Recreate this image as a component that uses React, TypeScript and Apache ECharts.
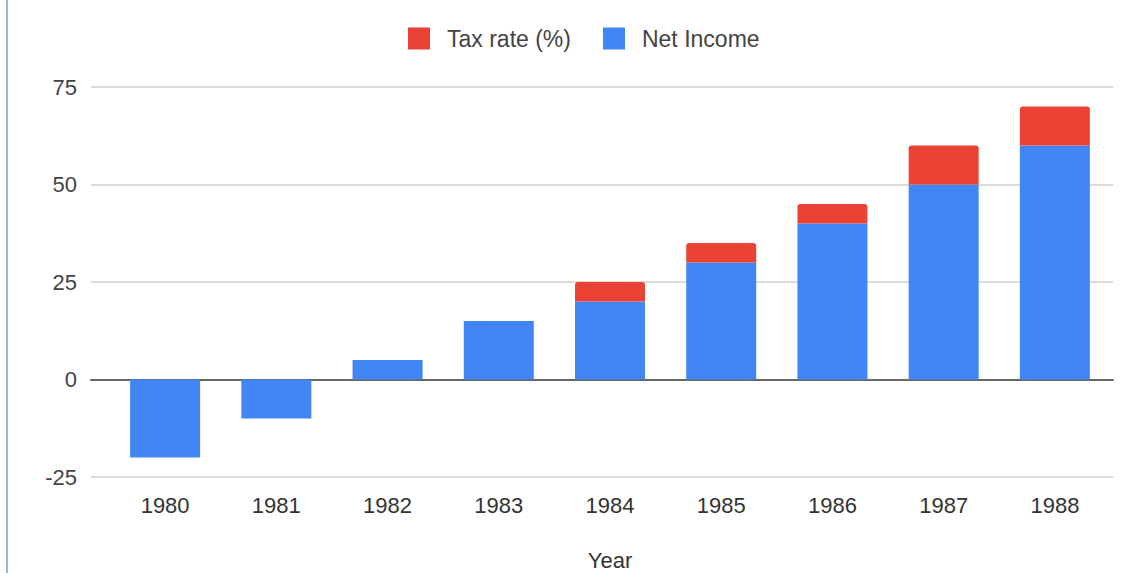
import React, { useEffect, useRef } from "react";
import * as echarts from "echarts";

const years = ["1980", "1981", "1982", "1983", "1984", "1985", "1986", "1987", "1988"];
const netIncome = [-20, -10, 5, 15, 20, 30, 40, 50, 60];
const taxRate = [null, null, null, null, 5, 5, 5, 10, 10];
const yMin = -25;
const yMax = 75;
const yStep = 25;

const FONT = "'Liberation Sans', Arial, sans-serif";

export default function App() {
  const ref = useRef<HTMLDivElement>(null);
  useEffect(() => {
    if (!ref.current) return;
    const chart = echarts.init(ref.current, undefined, { renderer: "svg" });
    chart.setOption({
      animation: false,
      backgroundColor: "#ffffff",
      textStyle: { fontFamily: FONT },
      legend: {
        left: 403,
        top: 22,
        itemWidth: 22,
        itemHeight: 22,
        itemGap: 32,
        icon: "rect",
        data: ["Tax rate (%)", "Net Income"],
        textStyle: { fontSize: 23, color: "#444", fontFamily: FONT, padding: [0, 0, 0, 12] },
      },
      graphic: [
        {
          type: "line",
          shape: { x1: 7, y1: 0, x2: 7, y2: 573 },
          style: { stroke: "#3b6fd6", lineWidth: 1 },
        },
      ],
      grid: [
        { left: 91, right: 8, top: 87, bottom: 96, outerBoundsMode: "none", containLabel: false },
        { left: 109.5, right: 10.5, top: 87, bottom: 96, outerBoundsMode: "none", containLabel: false },
      ],
      xAxis: [
        {
          gridIndex: 0,
          type: "value",
          min: 0,
          max: 1,
          axisLine: { show: true, onZero: true, lineStyle: { color: "#666", width: 2 } },
          axisTick: { show: false },
          axisLabel: { show: false },
          splitLine: { show: false },
        },
        {
          gridIndex: 1,
          type: "category",
          data: years,
          axisLine: { show: false },
          axisTick: { show: false },
          axisLabel: { fontSize: 22, color: "#333", margin: 17, fontFamily: FONT },
          name: "Year",
          nameLocation: "middle",
          nameGap: 72,
          nameTextStyle: { fontSize: 22, color: "#333", fontFamily: FONT },
        },
      ],
      yAxis: [
        {
          gridIndex: 0,
          type: "value",
          min: yMin,
          max: yMax,
          interval: yStep,
          axisLine: { show: false },
          axisTick: { show: false },
          axisLabel: { fontSize: 22, color: "#444", margin: 14, fontFamily: FONT },
          splitLine: { lineStyle: { color: "#cfcfcf", width: 1.5 } },
        },
        {
          gridIndex: 1,
          type: "value",
          min: yMin,
          max: yMax,
          interval: yStep,
          show: false,
          splitLine: { show: false },
        },
      ],
      series: [
        {
          name: "Net Income",
          type: "bar",
          stack: "total",
          xAxisIndex: 1,
          yAxisIndex: 1,
          data: netIncome,
          barWidth: 70,
          itemStyle: { color: "#4285F4" },
          z: 3,
        },
        {
          name: "Tax rate (%)",
          type: "bar",
          stack: "total",
          xAxisIndex: 1,
          yAxisIndex: 1,
          data: taxRate,
          barWidth: 70,
          itemStyle: { color: "#EA4335", borderRadius: [3, 3, 0, 0] },
          z: 3,
        },
      ],
    });
    return () => chart.dispose();
  }, []);
  return (
    <div
      ref={ref}
      style={{ position: "fixed", left: 0, top: 0, width: 1121, height: 573 }}
    />
  );
}
